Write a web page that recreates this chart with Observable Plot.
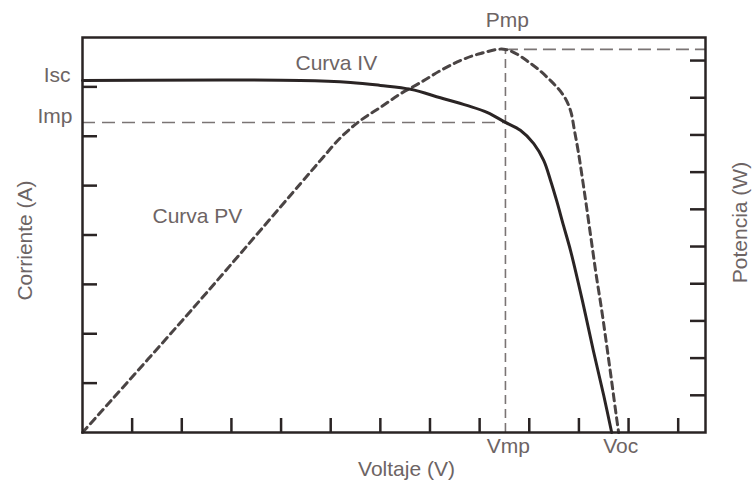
<!DOCTYPE html>
<html><head><meta charset="utf-8">
<script src="https://cdn.jsdelivr.net/npm/d3@7"></script>
<script src="https://cdn.jsdelivr.net/npm/@observablehq/plot@0.6"></script>
<style>body{margin:0;background:#fff} #chart svg{display:block}</style>
</head><body><div id="chart"></div>
<script>
// Curva IV (voltaje, corriente)
const voltageIV = [0, 4.39, 5.40, 6.00, 6.61, 7.21, 7.76, 8.16, 8.52, 8.82, 9.09, 9.29, 9.43, 9.55, 9.69, 9.83, 10.07, 10.29, 10.50, 10.66];
const currentIV = [7.13, 7.13, 7.09, 7.03, 6.95, 6.78, 6.62, 6.48, 6.28, 6.12, 5.85, 5.51, 5.10, 4.70, 4.19, 3.69, 2.67, 1.66, 0.75, 0];
// Curva PV (voltaje, potencia)
const voltagePV = [0, 2.22, 4.39, 4.79, 5.20, 5.60, 6.00, 6.41, 6.81, 7.21, 7.61, 8.02, 8.52, 9.03, 9.43, 9.69, 9.83, 9.91, 9.99, 10.07, 10.15, 10.25, 10.35, 10.46, 10.56, 10.66, 10.76, 10.80];
const powerPV   = [0, 3.33, 6.69, 7.31, 7.93, 8.39, 8.74, 9.11, 9.41, 9.73, 10.00, 10.19, 10.30, 9.92, 9.46, 9.06, 8.66, 8.12, 7.53, 6.83, 6.10, 5.16, 4.22, 3.28, 2.34, 1.37, 0.38, 0];
// ticks
const xTicks = [1,2,3,4,5,6,7,8,9,10,11,12];
const yTicks = [1,2,3,4,5,6,7];
const pTicks = [1,2,3,4,5,6,7,8,9,10];
// key points
const Vmp = 8.52, Voc = 10.66, Isc = 7.13, Imp = 6.28, Pmp = 10.30;
const xMax = 12.55, yMax = 8, pMax = 10.62;
const k = yMax / pMax;

const iv = voltageIV.map((v, i) => ({v, i: currentIV[i]}));
const pv = voltagePV.map((v, i) => ({v, p: powerPV[i] * k}));

const ink = "#2a2424", txt = "#6d6464", ref = "#7a7474";
const font = {fontFamily: "Liberation Sans, Arial, sans-serif", fontSize: 21, fill: txt};
const W = 755, H = 484, mL = 82, mR = 50, mT = 37, mB = 52;
const pxX = (W - mL - mR) / xMax, pxY = (H - mT - mB) / yMax;

const chart = Plot.plot({
  width: W, height: H,
  marginLeft: mL, marginRight: mR, marginTop: mT, marginBottom: mB,
  x: {domain: [0, xMax], axis: null},
  y: {domain: [0, yMax], axis: null},
  marks: [
    Plot.ruleY([Imp], {x1: 0, x2: Vmp, stroke: ref, strokeWidth: 1.6, strokeDasharray: "13,7"}),
    Plot.ruleY([Pmp * k], {x1: Vmp, x2: xMax, stroke: ref, strokeWidth: 1.6, strokeDasharray: "13,6"}),
    Plot.ruleX([Vmp], {y1: 0, y2: Pmp * k, stroke: ref, strokeWidth: 1.6, strokeDasharray: "9,5"}),
    Plot.line(pv, {x: "v", y: "p", curve: "catmull-rom", stroke: "#4a4444", strokeWidth: 3, strokeDasharray: "7,5"}),
    Plot.line(iv, {x: "v", y: "i", curve: "catmull-rom", stroke: ink, strokeWidth: 3}),
    Plot.ruleX(xTicks, {y1: 0, y2: 14 / pxY, stroke: ink, strokeWidth: 2.5}),
    Plot.ruleY(yTicks, {x1: 0, x2: 15 / pxX, stroke: ink, strokeWidth: 2.5}),
    Plot.ruleY(pTicks, {y: d => d * k, x1: xMax - 15 / pxX, x2: xMax, stroke: ink, strokeWidth: 2.5}),
    Plot.frame({stroke: ink, strokeWidth: 2.5}),
    Plot.text(["Isc"], {x: 0, y: Isc, dx: -12, dy: -5, textAnchor: "end", ...font}),
    Plot.text(["Imp"], {x: 0, y: Imp, dx: -10, dy: -6, textAnchor: "end", ...font}),
    Plot.text(["Pmp"], {x: Vmp, y: yMax, dx: 2, dy: -17, ...font}),
    Plot.text(["Vmp"], {x: Vmp, y: 0, dx: 3, dy: 14, ...font}),
    Plot.text(["Voc"], {x: Voc, y: 0, dx: 9, dy: 14, ...font}),
    Plot.text(["Voltaje (V)"], {x: (406 - mL) / pxX, y: 0, dy: 37, ...font}),
    Plot.text(["Curva IV"], {x: (295 - mL) / pxX, y: (H - mB - 63) / pxY, textAnchor: "start", ...font}),
    Plot.text(["Curva PV"], {x: (152 - mL) / pxX, y: (H - mB - 216) / pxY, textAnchor: "start", ...font}),
    Plot.text(["Corriente (A)"], {x: (25 - mL) / pxX, y: (H - mB - 240) / pxY, rotate: -90, ...font}),
    Plot.text(["Potencia (W)"], {x: (740 - mL) / pxX, y: (H - mB - 222) / pxY, rotate: -90, ...font})
  ]
});
document.getElementById("chart").append(chart);
</script>
</body></html>
